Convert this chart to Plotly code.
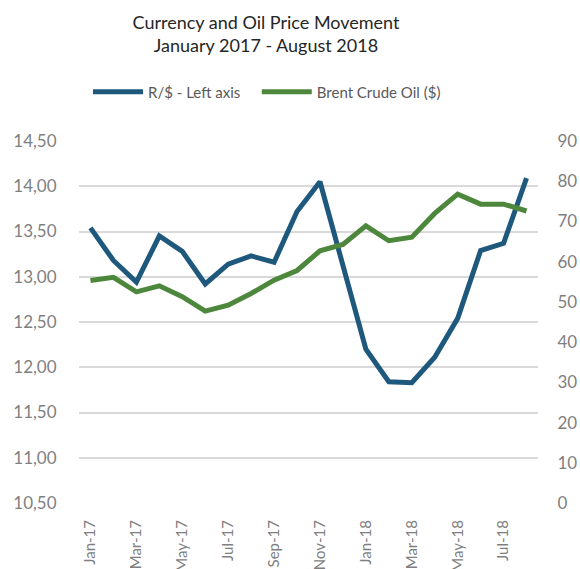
import plotly.graph_objects as go

months = ["Jan-17", "Feb-17", "Mar-17", "Apr-17", "May-17", "Jun-17", "Jul-17", "Aug-17",
          "Sep-17", "Oct-17", "Nov-17", "Dec-17", "Jan-18", "Feb-18", "Mar-18", "Apr-18",
          "May-18", "Jun-18", "Jul-18", "Aug-18"]
rand_usd = [13.54, 13.18, 12.94, 13.45, 13.28, 12.92, 13.14, 13.23, 13.16, 13.72,
            14.05, 13.14, 12.20, 11.84, 11.83, 12.11, 12.54, 13.29, 13.37, 14.09]
brent = [55.3, 56.1, 52.5, 54.0, 51.3, 47.7, 49.2, 52.1, 55.4, 57.8,
         62.7, 64.3, 68.9, 65.2, 66.1, 72.0, 76.8, 74.3, 74.3, 72.6]
left_ticks = [10.5, 11.0, 11.5, 12.0, 12.5, 13.0, 13.5, 14.0, 14.5]
right_ticks = [0, 10, 20, 30, 40, 50, 60, 70, 80, 90]

FONT = "Lato"
GREY = "#7f7f7f"

fig = go.Figure()
fig.add_trace(go.Scatter(x=months, y=rand_usd, name="R/$ - Left axis\u00a0\u00a0\u00a0", mode="lines",
                         line=dict(color="#1f587d", width=5), yaxis="y"))
fig.add_trace(go.Scatter(x=months, y=brent, name="Brent Crude Oil ($)", mode="lines",
                         line=dict(color="#4d873b", width=5), yaxis="y2"))

fig.update_layout(
    width=580, height=569,
    paper_bgcolor="white", plot_bgcolor="white",
    separators=",.",
    margin=dict(l=79, r=42, t=141, b=66, autoexpand=False),
    font=dict(family=FONT, color=GREY),
    title=dict(text="Currency and Oil Price Movement<br>January 2017 - August 2018",
               x=266 / 580, xanchor="center", xref="container",
               y=1 - 29 / 569, yanchor="middle", yref="container",
               font=dict(family=FONT, size=18, color="#262626")),
    showlegend=True,
    legend=dict(orientation="h", x=88 / 580, xanchor="left", y=1 - 92 / 569, yanchor="middle",
                xref="container", yref="container",
                font=dict(family=FONT, size=15, color="#595959"),
                itemwidth=50, tracegroupgap=0, bgcolor="rgba(0,0,0,0)"),
    xaxis=dict(type="category", range=[-0.5, 19.5], tickmode="array",
               tickvals=months[::2], ticktext=months[::2], tickangle=-90,
               showgrid=False, showline=False, zeroline=False,
               ticks="outside", ticklen=10, tickcolor="rgba(0,0,0,0)",
               tickfont=dict(family=FONT, size=15, color=GREY), automargin=False),
    yaxis=dict(range=[10.5, 14.5], tickmode="array", tickvals=left_ticks, tickformat=".2f",
               showgrid=True, gridcolor="#d9d9d9", gridwidth=1.5, zeroline=False,
               showline=False, ticks="outside", ticklen=18, tickcolor="rgba(0,0,0,0)",
               tickfont=dict(family=FONT, size=17, color=GREY), automargin=False),
    yaxis2=dict(range=[0, 90], tickmode="array", tickvals=right_ticks, overlaying="y",
                side="right", showgrid=False, zeroline=False, showline=False,
                ticks="outside", ticklen=15, tickcolor="rgba(0,0,0,0)",
                tickfont=dict(family=FONT, size=17, color=GREY), automargin=False),
)

fig.write_html("out.html", config={"displayModeBar": False},
               post_script="document.body.style.margin='0';document.body.style.overflow='hidden';")
